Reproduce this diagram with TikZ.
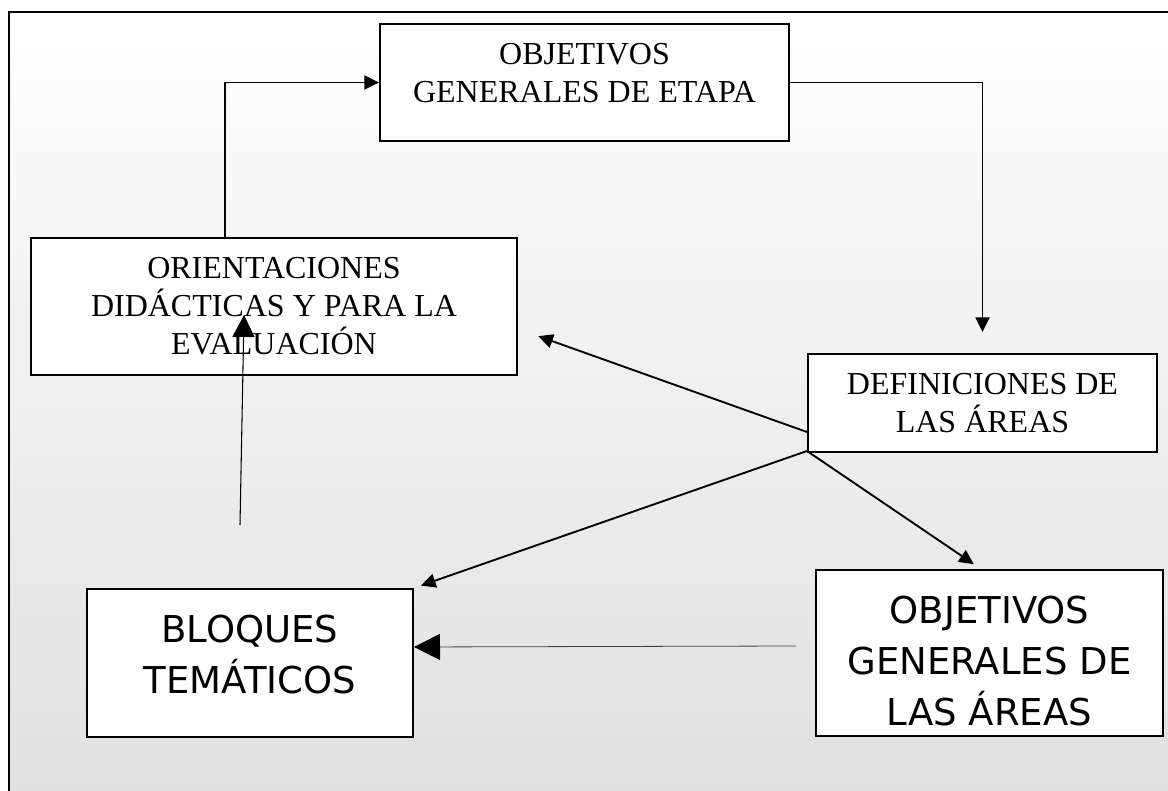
\documentclass[tikz,border=0pt]{standalone}
\usepackage{fontspec}
\setmainfont{Liberation Serif}
\newfontfamily\comicfont{DejaVu Sans}
\usetikzlibrary{arrows.meta}
\tikzset{
	caja/.style={draw=black,line width=1.5pt,fill=white,align=center,inner sep=0pt},
	letraT/.style={font=\fontsize{24pt}{28.5pt}\selectfont},
	letraC/.style={font=\comicfont\fontsize{27.75pt}{38.25pt}\selectfont},
	flecha/.style={line width=1.4pt,-{Triangle[length=11pt,width=10.5pt]}},
	flechaG/.style={-{Triangle[length=#1,width=#1,black]}}
}
\begin{document}
\begin{tikzpicture}[x=0.75pt,y=-0.75pt]
	\useasboundingbox (0,0) rectangle (1168,791);
	\shade[top color=white,bottom color=black!12] (9,12) rectangle (1168,791);
	\draw[line width=1.5pt] (1168,12)--(9,12)--(9,791);
	\node[caja,letraT,minimum width=306.75pt,minimum height=87.75pt,text height=45pt,text depth=14.25pt] (etapa) at (584.5,82.5) {OBJETIVOS\\GENERALES DE ETAPA};
	\node[caja,letraT,minimum width=364.8pt,minimum height=102.75pt] (orient) at (274,306.5) {ORIENTACIONES\\DIDÁCTICAS Y PARA LA\\EVALUACIÓN};
	\node[caja,letraT,minimum width=261.75pt,minimum height=73.5pt] (defin) at (982.5,403) {DEFINICIONES DE\\LAS ÁREAS};
	\node[caja,letraC,minimum width=244.5pt,minimum height=111pt,text height=60pt,text depth=15pt] (bloques) at (250,663) {BLOQUES\\TEMÁTICOS};
	\node[caja,letraC,minimum width=260.25pt,minimum height=124.5pt,text height=112.5pt,text depth=4.5pt] (areas) at (989.5,653) {OBJETIVOS\\GENERALES DE\\LAS ÁREAS};
	\draw[flecha] ([shift={(-49,0)}]orient.north) |- (etapa.west);
	\draw[flecha,shorten >=15.75pt] (etapa.east) -| (defin.north);
	\draw[flecha,shorten >=16pt] ([shift={(0,29)}]defin.west) -- ([shift={(0,22.5)}]orient.east);
	\draw[flecha,shorten >=5.5pt] ([shift={(0,-2)}]defin.south west) -- (bloques.north east);
	\draw[flecha,shorten >=6.5pt] ([shift={(0,-2)}]defin.south west) -- ([shift={(-8.5,0)}]areas.north);
	\draw[line width=0.6pt,black!75,flechaG=19.5pt] ([shift={(-19,-7)}]areas.west) -- ([shift={(0,-16)}]bloques.east);
	\draw[line width=0.8pt,flechaG=16.5pt] ([shift={(-10,-63)}]bloques.north) -- ([shift={(-30,8.5)}]orient.center);
\end{tikzpicture}
\end{document}
